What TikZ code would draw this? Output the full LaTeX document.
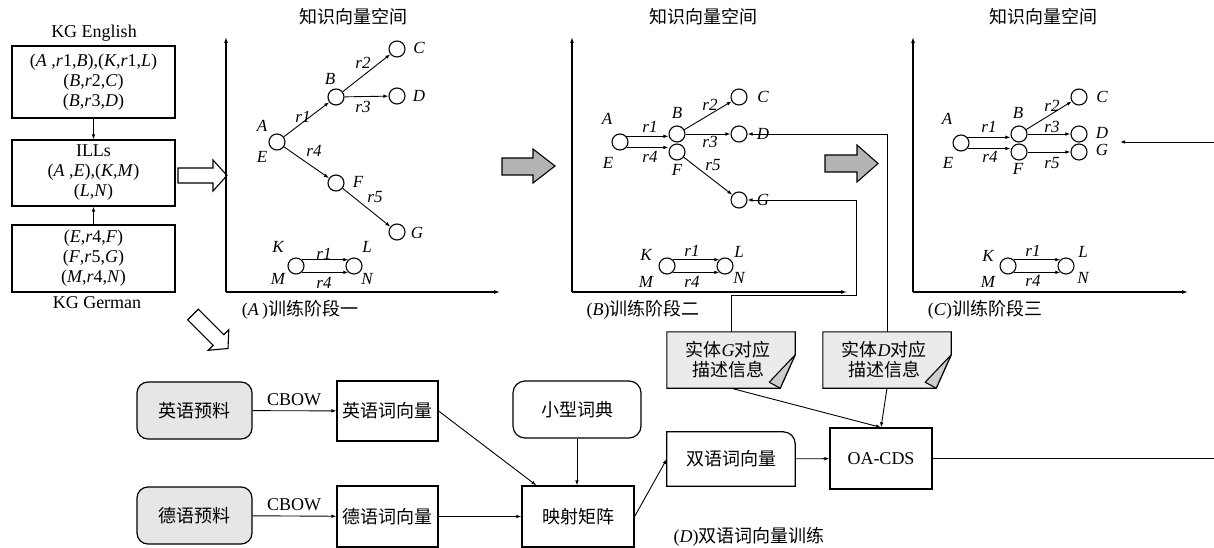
\documentclass[tikz,border=0pt]{standalone}
\usepackage{fontspec}
\setmainfont{Liberation Serif}
\newfontfamily\cjk{Noto Sans CJK SC}
\usetikzlibrary{arrows.meta,calc}
\newcommand\fA{\fontsize{18}{20}\selectfont}
\newcommand\fL{\fontsize{17}{19}\selectfont\itshape}
\definecolor{boxgrey}{HTML}{E6E6E6}
\definecolor{notegrey}{HTML}{EBEBEB}
\definecolor{foldgrey}{HTML}{CDCDCD}
\definecolor{arrgrey}{HTML}{B4B4B4}
\begin{document}
\begin{tikzpicture}[x=1pt,y=-1pt,
  circ/.style={circle,draw,line width=1.1pt,minimum size=16pt,inner sep=0pt},
  lb/.style={font=\fL,inner sep=0pt},
  arr/.style={-{Latex[length=5pt,width=3.6pt]},line width=0.9pt},
  axis/.style={-{Latex[length=6pt,width=4pt]},line width=1.1pt},
  bx/.style={draw,line width=1.2pt,inner sep=0pt,font=\fA,align=center},
  rbx/.style={bx,rounded corners=11pt},
  txt/.style={font=\fA,inner sep=0pt},
  hollow/.style={draw,line width=1.1pt,fill=white},
  greyarr/.style={draw,line width=1.1pt,fill=arrgrey},
  note/.style={draw,line width=1.1pt,fill=notegrey},
  fold/.style={draw,line width=1.1pt,fill=foldgrey,line join=round}]
\useasboundingbox (0,0) rectangle (1214,548);

% ---------------- left knowledge graph boxes
\node[txt] (kge) at (94,33) {KG English};
\node[bx,minimum width=163,minimum height=72] (b1) at (93.5,82)
  {(\textit{A} ,\textit{r}1,\textit{B}),(\textit{K},\textit{r}1,\textit{L})\\(\textit{B},\textit{r}2,\textit{C})\\(\textit{B},\textit{r}3,\textit{D})};
\node[bx,minimum width=163,minimum height=66] (b2) at (93.5,173)
  {ILLs\\(\textit{A} ,\textit{E}),(\textit{K},\textit{M})\\(\textit{L},\textit{N})};
\node[bx,minimum width=163,minimum height=67] (b3) at (93.5,258.5)
  {(\textit{E},\textit{r}4,\textit{F})\\(\textit{F},\textit{r}5,\textit{G})\\(\textit{M},\textit{r}4,\textit{N})};
\node[txt] (kgg) at (97,303) {KG German};
\draw[arr] (b1) -- (b2);
\draw[arr] (b3) -- (b2);

% hollow arrows
\path[hollow] (178,168) -- (213,168) -- (213,160) -- (227,175.5) -- (213,191) -- (213,183) -- (178,183) -- cycle;
\path[hollow] (198.3,309.2) -- (223.8,334.7) -- (228.8,329.7) -- (228,348.5) -- (208.2,350.3) -- (213.2,345.3) -- (187.7,319.8) -- cycle;

% grey arrows
\path[greyarr] (502,158) -- (533,158) -- (533,149) -- (555,166) -- (533,183) -- (533,175) -- (502,175) -- cycle;
\path[greyarr] (825,155) -- (857,155) -- (857,145) -- (878,163.5) -- (857,182) -- (857,172) -- (825,172) -- cycle;

% ---------------- panel A
\coordinate (aO) at (226,292); \coordinate (aY) at (226,37); \coordinate (aX) at (500,292);
\draw[axis] (aO) -- (aY); \draw[axis] (aO) -- (aX);
\node[txt] (aT) at (353,17) {\cjk 知识向量空间};
\node[txt] (aCap) at (300,310) {(\textit{A}\,){\cjk 训练阶段一}};
\node[circ] (aAE) at (277,142) {};
\node[circ] (aB) at (336,97) {};
\node[circ] (aC) at (397,49) {};
\node[circ] (aD) at (397,96) {};
\node[circ] (aF) at (336,183) {};
\node[circ] (aG) at (397,232) {};
\node[circ] (aKM) at (296,266) {};
\node[circ] (aLN) at (354,266) {};
\draw[arr] (aAE) -- (aB);
\draw[arr] (aB) -- (aC);
\draw[arr] (aB) -- (aD);
\draw[arr] (aAE) -- (aF);
\draw[arr] (aF) -- (aG);
\draw[arr] (aKM.48) -- (aLN.132);
\draw[arr] (aKM.-48) -- (aLN.-132);
\node[lb] at (262,126) {A}; \node[lb] at (262,157) {E};
\node[lb] at (330,79) {B}; \node[lb] at (419,48) {C}; \node[lb] at (419,96) {D};
\node[lb] at (358,182) {F}; \node[lb] at (417,233) {G};
\node[lb] at (303,117) {r1}; \node[lb] at (363,63) {r2}; \node[lb] at (363,107) {r3};
\node[lb] at (314,151) {r4}; \node[lb] at (375,197) {r5};
\node[lb] at (278,247) {K}; \node[lb] at (278,279) {M};
\node[lb] at (367,247) {L}; \node[lb] at (367,279) {N};
\node[lb] at (324,254) {r1}; \node[lb] at (324,283) {r4};

% ---------------- panel B
\coordinate (bO) at (572,292); \coordinate (bY) at (572,37); \coordinate (bX) at (847,292);
\draw[axis] (bO) -- (bY); \draw[axis] (bO) -- (bX);
\node[txt] (bT) at (703,17) {\cjk 知识向量空间};
\node[txt] (bCap) at (643,310) {(\textit{B}){\cjk 训练阶段二}};
\node[circ] (bAE) at (620,142) {};
\node[circ] (bB) at (677,134) {};
\node[circ] (bF) at (677,152) {};
\node[circ] (bC) at (739,97) {};
\node[circ] (bD) at (739,134) {};
\node[circ] (bG) at (739,200) {};
\node[circ] (bKM) at (667,266) {};
\node[circ] (bLN) at (725,266) {};
\draw[arr] (bAE.42) -- (bAE.42 -| bB.west);
\draw[arr] (bAE.-40) -- (bAE.-40 -| bF.west);
\draw[arr] (bB) -- (bC);
\draw[arr] (bB) -- (bD);
\draw[arr] (bF) -- (bG);
\draw[arr] (bKM.48) -- (bLN.132);
\draw[arr] (bKM.-48) -- (bLN.-132);
\node[lb] at (607,119) {A}; \node[lb] at (608,163) {E};
\node[lb] at (677,113) {B}; \node[lb] at (677,170) {F};
\node[lb] at (763,97) {C}; \node[lb] at (763,134) {D}; \node[lb] at (763,200) {G};
\node[lb] at (650,127) {r1}; \node[lb] at (650,157) {r4};
\node[lb] at (710,105) {r2}; \node[lb] at (710,142) {r3}; \node[lb] at (713,165) {r5};
\node[lb] at (646,255) {K}; \node[lb] at (646,282) {M};
\node[lb] at (739,252) {L}; \node[lb] at (739,278) {N};
\node[lb] at (692,251) {r1}; \node[lb] at (692,282) {r4};

% ---------------- panel C
\coordinate (cO) at (913,292); \coordinate (cY) at (913,37); \coordinate (cX) at (1188,292);
\draw[axis] (cO) -- (cY); \draw[axis] (cO) -- (cX);
\node[txt] (cT) at (1043,17) {\cjk 知识向量空间};
\node[txt] (cCap) at (985,310) {(\textit{C}){\cjk 训练阶段三}};
\node[circ] (cAE) at (961,143) {};
\node[circ] (cB) at (1019,134) {};
\node[circ] (cF) at (1019,152) {};
\node[circ] (cC) at (1079,97) {};
\node[circ] (cD) at (1079,134) {};
\node[circ] (cG) at (1079,152) {};
\node[circ] (cKM) at (1008,266) {};
\node[circ] (cLN) at (1066,266) {};
\draw[arr] (cAE.42) -- (cAE.42 -| cB.west);
\draw[arr] (cAE.-40) -- (cAE.-40 -| cF.west);
\draw[arr] (cB) -- (cC);
\draw[arr] (cB) -- (cD);
\draw[arr] (cF) -- (cG);
\draw[arr] (cKM.48) -- (cLN.132);
\draw[arr] (cKM.-48) -- (cLN.-132);
\node[lb] at (947,119) {A}; \node[lb] at (948,163) {E};
\node[lb] at (1018,113) {B}; \node[lb] at (1018,169) {F};
\node[lb] at (1102,97) {C}; \node[lb] at (1102,133) {D}; \node[lb] at (1102,150) {G};
\node[lb] at (989,127) {r1}; \node[lb] at (990,157) {r4};
\node[lb] at (1052,106) {r2}; \node[lb] at (1052,127) {r3}; \node[lb] at (1052,163) {r5};
\node[lb] at (988,256) {K}; \node[lb] at (988,282) {M};
\node[lb] at (1083,252) {L}; \node[lb] at (1083,278) {N};
\node[lb] at (1033,251) {r1}; \node[lb] at (1033,281) {r4};

% ---------------- bottom: bilingual word vectors
\node[rbx,fill=boxgrey,minimum width=115,minimum height=57] (en) at (194.5,410.5) {\cjk 英语预料};
\node[rbx,fill=boxgrey,minimum width=115,minimum height=57] (de) at (194.5,515.5) {\cjk 德语预料};
\node[bx,minimum width=101,minimum height=60] (env) at (387.5,411) {\cjk 英语词向量};
\node[bx,minimum width=101,minimum height=61] (dev) at (387.5,516.5) {\cjk 德语词向量};
\node[rbx,rounded corners=12pt,minimum width=128,minimum height=57] (dict) at (577,409.5) {\cjk 小型词典};
\node[bx,minimum width=112,minimum height=61] (map) at (578,516.5) {\cjk 映射矩阵};
\node[txt,minimum width=128,minimum height=54] (bil) at (731,459) {\cjk 双语词向量};
\draw[line width=1.2pt] (bil.south west) -- (bil.north west) -- ([xshift=-12pt]bil.north east)
  arc[start angle=90,end angle=0,radius=12pt] -- (bil.south east) -- cycle;
\node[bx,minimum width=102,minimum height=61] (oa) at (881,458.5) {OA-CDS};
\node[txt] (cb1) at (294,400) {CBOW};
\node[txt] (cb2) at (294,505) {CBOW};
\node[txt] (dCap) at (749,537) {(\textit{D}){\cjk 双语词向量训练}};

% notes
\node[txt,minimum width=128,minimum height=56] (ndG) at (731,360) {};
\path[note] (ndG.north west) -- (ndG.north east) -- ([yshift=-23pt]ndG.north east) -- ([xshift=-15pt]ndG.south east) -- (ndG.south west) -- cycle;
\path[fold] ([yshift=-23pt]ndG.north east) -- ([xshift=-15pt]ndG.south east) -- ([xshift=-26pt,yshift=6pt]ndG.south east) -- cycle;
\node[txt,align=center] (ndGt) at (728,360) {{\cjk 实体}\textit{G}{\cjk 对应}\\{\cjk 描述信息}};
\node[txt,minimum width=128,minimum height=56] (ndD) at (887,360) {};
\path[note] (ndD.north west) -- (ndD.north east) -- ([yshift=-23pt]ndD.north east) -- ([xshift=-15pt]ndD.south east) -- (ndD.south west) -- cycle;
\path[fold] ([yshift=-23pt]ndD.north east) -- ([xshift=-15pt]ndD.south east) -- ([xshift=-26pt,yshift=6pt]ndD.south east) -- cycle;
\node[txt,align=center] (ndDt) at (884,360) {{\cjk 实体}\textit{D}{\cjk 对应}\\{\cjk 描述信息}};

% connectors bottom
\draw[arr] (en) -- (env);
\draw[arr] (de) -- (dev);
\draw[arr] (env.east) -- ([xshift=15pt]map.north west);
\draw[arr] (dev) -- (map);
\draw[arr] (dict.south) -- (dict.south |- map.north);
\draw[arr] (map.east) -- (bil.west);
\draw[arr] (bil) -- (oa);
\draw[arr] (ndG.south) -- (oa.north);
\draw[arr] (ndD.south) -- (oa.north);

% feedback lines
\coordinate (g1) at (856,295);
\draw[arr] (ndG.north) |- (g1) |- (bG.east);
\draw[arr] (ndD.north) |- (bD.east);
\coordinate (eR2) at (1214,458.5);
\coordinate (eR1) at (1214,142);
\coordinate (cIn) at (1120,142);
\draw[line width=0.9pt] (oa.east) -- (eR2);
\draw[arr] (eR1) -- (cIn);
\end{tikzpicture}
\end{document}
